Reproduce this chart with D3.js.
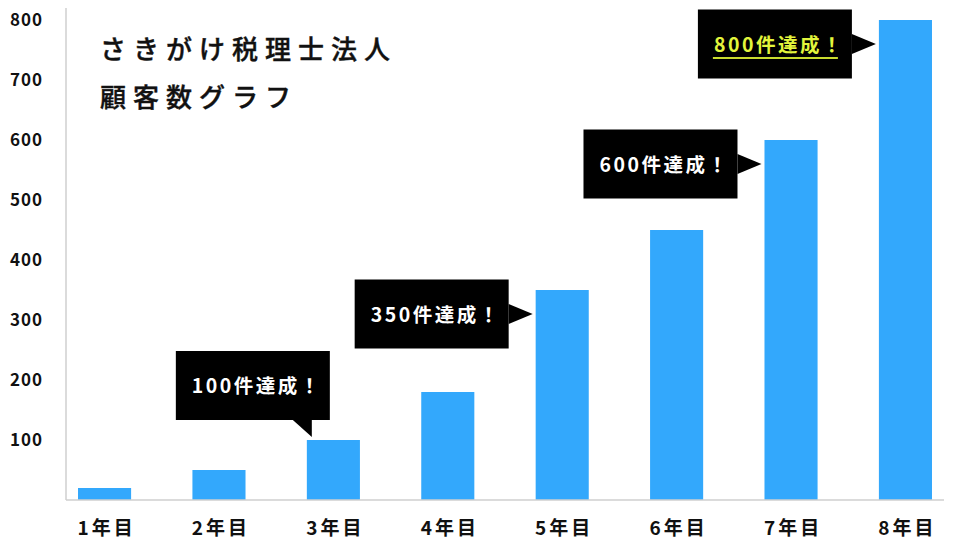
<!DOCTYPE html>
<html><head><meta charset="utf-8">
<script src="https://cdn.jsdelivr.net/npm/d3@7/dist/d3.min.js"></script>
<style>
html,body{margin:0;padding:0;background:#fff;}
svg{display:block;font-family:"Noto Sans CJK JP","Noto Sans",sans-serif;}
</style></head><body>
<svg id="c" width="962" height="555"></svg>
<script>
const categories = ["1年目","2年目","3年目","4年目","5年目","6年目","7年目","8年目"];
const customers = [20, 50, 100, 180, 350, 450, 600, 800];
const yTicks = [100,200,300,400,500,600,700,800];
const titleLines = ["さきがけ税理士法人","顧客数グラフ"];
const calloutIndex = [2, 4, 6, 7];
const calloutText = ["100件達成！","350件達成！","600件達成！","800件達成！"];
const calloutSide = ["top","left","left","left"];
const calloutHighlight = [false,false,false,true];

const svg = d3.select("#c");
const x = d3.scaleBand().domain(categories).range([66, 944]).paddingInner(0.536).paddingOuter(0.105);
const y = d3.scaleLinear().domain([0, 800]).range([500, 20]);

// bars
svg.append("g").selectAll("rect").data(customers).join("rect")
  .attr("x", (d,i)=>x(categories[i]))
  .attr("y", d=>y(d))
  .attr("width", x.bandwidth())
  .attr("height", d=>y(0)-y(d))
  .attr("fill", "#33a8fc");

// axes
const yAxis = d3.axisLeft(y).tickValues(yTicks).tickSize(0).tickPadding(0);
const gy = svg.append("g").attr("transform","translate(43,0)").call(yAxis);
gy.select(".domain").remove();
gy.selectAll("text").attr("font-size",17).attr("font-weight",700).attr("fill","#111")
  .attr("letter-spacing","1px").attr("font-family","'Noto Sans CJK JP'");

const xAxis = d3.axisBottom(x).tickSize(0).tickPadding(0);
const gx = svg.append("g").attr("transform","translate(2,528)").call(xAxis);
gx.select(".domain").remove();
gx.selectAll("text").attr("font-size",19).attr("font-weight",700).attr("fill","#111")
  .attr("dy","0.35em").attr("letter-spacing","3px").attr("font-family","'Noto Sans CJK JP'");

svg.append("line").attr("x1",66).attr("x2",66).attr("y1",8).attr("y2",500).attr("stroke","#cfcfcf").attr("stroke-width",1.5);
svg.append("line").attr("x1",66).attr("x2",944).attr("y1",500).attr("y2",500).attr("stroke","#cfcfcf").attr("stroke-width",1.5);

// title
svg.append("g").selectAll("text").data(titleLines).join("text")
  .attr("x",100).attr("y",(d,i)=>50+i*48).attr("dy","0.35em")
  .attr("font-size",26).attr("font-weight",500).attr("letter-spacing","7px").attr("fill","#111")
  .attr("stroke","#111").attr("stroke-width",0.4)
  .text(d=>d);

// callouts
const BW = 154, BH = 69;
calloutIndex.forEach((idx,k)=>{
  const g = svg.append("g");
  const bl = x(categories[idx]);
  const top = y(customers[idx]);
  let bx, by, tri;
  if (calloutSide[k]==="left") {
    const cy = top + 24;
    bx = bl - 27 - BW; by = cy - BH/2;
    tri = [[bl-27, cy-10],[bl-3, cy],[bl-27, cy+10]];
  } else {
    bx = bl - 131; by = top - 20 - BH;
    tri = [[bl-14, top-20],[bl+5, top-20],[bl+5, top-3]];
  }
  g.append("rect").attr("x",bx).attr("y",by).attr("width",BW).attr("height",BH).attr("fill","#000");
  g.append("polygon").attr("points",tri.map(p=>p.join(",")).join(" ")).attr("fill","#000");
  const hl = calloutHighlight[k];
  g.append("text").attr("x",bx+BW/2+4).attr("y",by+BH/2+1).attr("dy","0.35em")
    .attr("text-anchor","middle").attr("font-size",19.5).attr("font-weight",700)
    .attr("letter-spacing","2.5px").attr("fill", hl ? "#e2f53c" : "#fff").text(calloutText[k]);
  if (hl) {
    g.append("line").attr("x1",bx+15).attr("x2",bx+140).attr("y1",by+BH/2+14).attr("y2",by+BH/2+14)
      .attr("stroke","#c9dc2e").attr("stroke-width",2);
  }
});
</script></body></html>
